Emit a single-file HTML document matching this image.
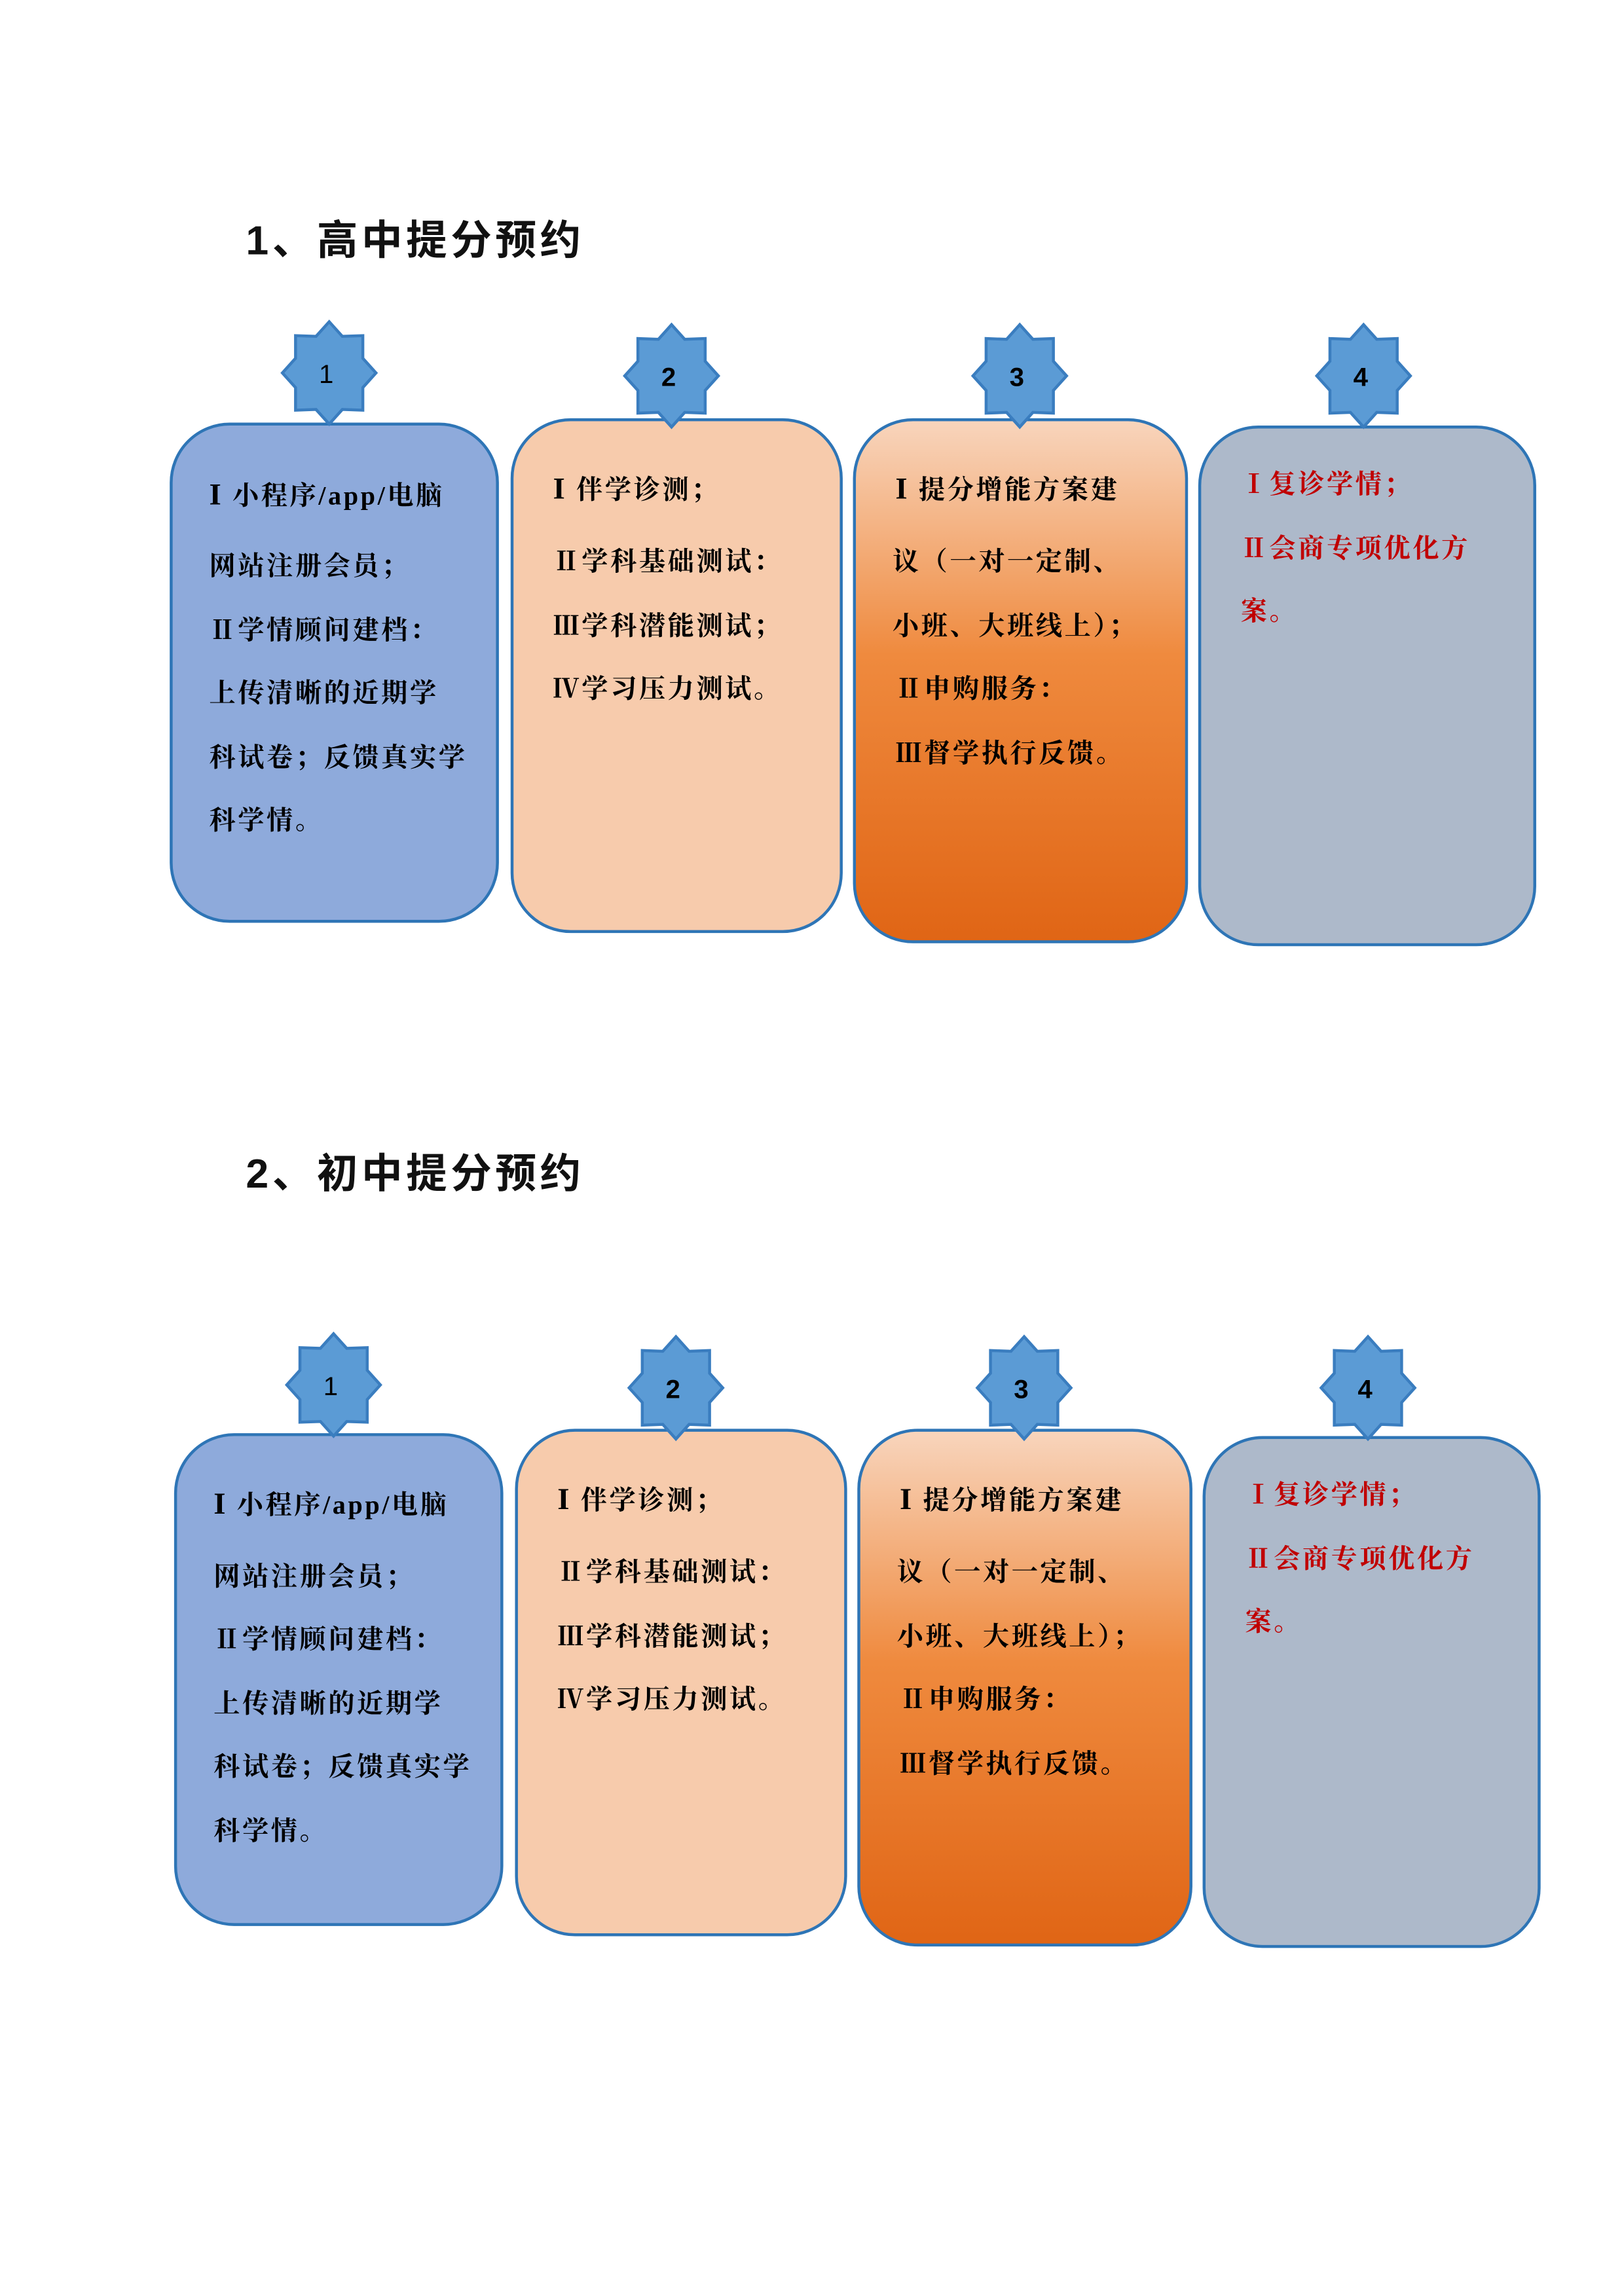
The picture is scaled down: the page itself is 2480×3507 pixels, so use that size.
<!DOCTYPE html>
<html><head><meta charset="utf-8"><style>
html,body{margin:0;padding:0;background:#fff;}
svg{display:block}
.t{font-family:"Liberation Serif","Noto Serif CJK SC",serif;font-weight:bold;letter-spacing:1.6px;}
.h{font-family:"Liberation Sans","Noto Sans CJK SC",sans-serif;font-weight:bold;letter-spacing:2.5px;}
.n{font-family:"Liberation Sans",sans-serif;}
</style></head><body>
<svg width="2480" height="3507" viewBox="0 0 1110 1570" preserveAspectRatio="none" xmlns="http://www.w3.org/2000/svg">
<defs>
<linearGradient id="og" x1="0" y1="0" x2="0" y2="1">
<stop offset="0" stop-color="#f8d5bd"/><stop offset="0.45" stop-color="#ef8a3e"/><stop offset="1" stop-color="#e06515"/>
</linearGradient>
<polygon id="star" points="0,-35 9,-25 23,-25.5 23,-10 32,0 23,10 23,25.5 9,25 0,35 -9,25 -23,25.5 -23,10 -32,0 -23,-10 -23,-25.5 -9,-25" fill="#5b9bd5" stroke="#3a7dbf" stroke-width="2"/>
</defs>

<g>
<text class="h" x="168" y="174" font-size="28" fill="#111">1、高中提分预约</text>
<rect x="117" y="290" width="223" height="340" rx="40" fill="#8eaadb" stroke="#2e75b6" stroke-width="2"/>
<rect x="350" y="287" width="225" height="350" rx="40" fill="#f7cbac" stroke="#2e75b6" stroke-width="2"/>
<rect x="584" y="287" width="227" height="357" rx="40" fill="url(#og)" stroke="#2e75b6" stroke-width="2"/>
<rect x="820" y="292" width="229" height="354" rx="40" fill="#adb9ca" stroke="#2e75b6" stroke-width="2"/>
<use href="#star" x="225" y="255"/><use href="#star" x="459" y="257"/><use href="#star" x="697" y="257"/><use href="#star" x="932" y="257"/>
<g font-size="18" fill="#000" text-anchor="middle">
<text class="n" x="223" y="262">1</text><text class="n" x="457" y="264" font-weight="bold">2</text><text class="n" x="695" y="264" font-weight="bold">3</text><text class="n" x="930" y="264" font-weight="bold">4</text>
</g>
<g font-size="18" fill="#000">
<text class="t" x="143" y="345"><tspan font-size="21">I</tspan> 小程序/app/电脑</text>
<text class="t" x="143" y="393">网站注册会员；</text>
<text class="t" x="143" y="437">Ⅱ学情顾问建档：</text>
<text class="t" x="143" y="480">上传清晰的近期学</text>
<text class="t" x="143" y="524">科试卷；反馈真实学</text>
<text class="t" x="143" y="567">科学情。</text>
<text class="t" x="378" y="341"><tspan font-size="21">I</tspan> 伴学诊测；</text>
<text class="t" x="378" y="390">Ⅱ学科基础测试：</text>
<text class="t" x="378" y="434">Ⅲ学科潜能测试；</text>
<text class="t" x="378" y="477">Ⅳ学习压力测试。</text>
<text class="t" x="612" y="341"><tspan font-size="21">I</tspan> 提分增能方案建</text>
<text class="t" x="610" y="390">议（一对一定制、</text>
<text class="t" x="610" y="434">小班、大班线上）；</text>
<text class="t" x="612" y="477">Ⅱ申购服务：</text>
<text class="t" x="612" y="521">Ⅲ督学执行反馈。</text>
</g>
<g font-size="18" fill="#c00000">
<text class="t" x="848" y="337">Ⅰ复诊学情；</text>
<text class="t" x="848" y="381">Ⅱ会商专项优化方</text>
<text class="t" x="848" y="424">案。</text>
</g>
</g>

<g transform="translate(3,691)">
<text class="h" x="165" y="121" font-size="28" fill="#111">2、初中提分预约</text>
<rect x="117" y="290" width="223" height="335" rx="40" fill="#8eaadb" stroke="#2e75b6" stroke-width="2"/>
<rect x="350" y="287" width="225" height="345" rx="40" fill="#f7cbac" stroke="#2e75b6" stroke-width="2"/>
<rect x="584" y="287" width="227" height="352" rx="40" fill="url(#og)" stroke="#2e75b6" stroke-width="2"/>
<rect x="820" y="292" width="229" height="348" rx="40" fill="#adb9ca" stroke="#2e75b6" stroke-width="2"/>
<use href="#star" x="225" y="256"/><use href="#star" x="459" y="258"/><use href="#star" x="697" y="258"/><use href="#star" x="932" y="258"/>
<g font-size="18" fill="#000" text-anchor="middle">
<text class="n" x="223" y="263">1</text><text class="n" x="457" y="265" font-weight="bold">2</text><text class="n" x="695" y="265" font-weight="bold">3</text><text class="n" x="930" y="265" font-weight="bold">4</text>
</g>
<g font-size="18" fill="#000">
<text class="t" x="143" y="344"><tspan font-size="21">I</tspan> 小程序/app/电脑</text>
<text class="t" x="143" y="393">网站注册会员；</text>
<text class="t" x="143" y="436">Ⅱ学情顾问建档：</text>
<text class="t" x="143" y="480">上传清晰的近期学</text>
<text class="t" x="143" y="523">科试卷；反馈真实学</text>
<text class="t" x="143" y="567">科学情。</text>
<text class="t" x="378" y="341"><tspan font-size="21">I</tspan> 伴学诊测；</text>
<text class="t" x="378" y="390">Ⅱ学科基础测试：</text>
<text class="t" x="378" y="434">Ⅲ学科潜能测试；</text>
<text class="t" x="378" y="477">Ⅳ学习压力测试。</text>
<text class="t" x="612" y="341"><tspan font-size="21">I</tspan> 提分增能方案建</text>
<text class="t" x="610" y="390">议（一对一定制、</text>
<text class="t" x="610" y="434">小班、大班线上）；</text>
<text class="t" x="612" y="477">Ⅱ申购服务：</text>
<text class="t" x="612" y="521">Ⅲ督学执行反馈。</text>
</g>
<g font-size="18" fill="#c00000">
<text class="t" x="848" y="337">Ⅰ复诊学情；</text>
<text class="t" x="848" y="381">Ⅱ会商专项优化方</text>
<text class="t" x="848" y="424">案。</text>
</g>
</g>
</svg>
</body></html>
